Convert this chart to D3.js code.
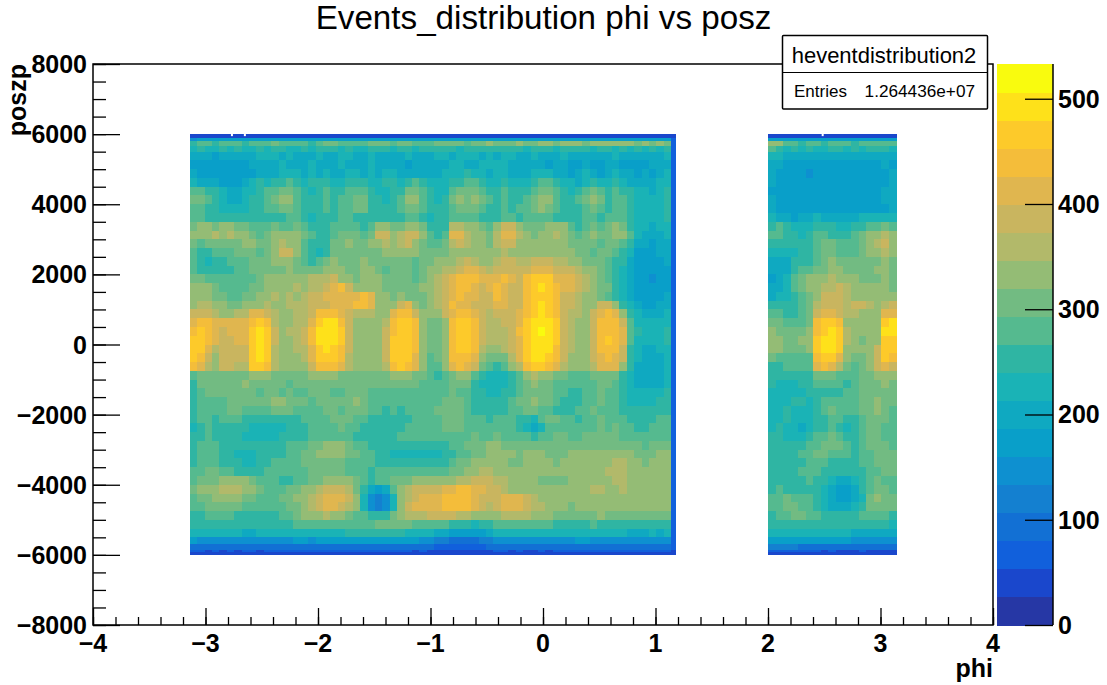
<!DOCTYPE html>
<html>
<head>
<meta charset="utf-8">
<title>Events_distribution phi vs posz</title>
<script src="https://cdn.jsdelivr.net/npm/d3@7"></script>
<style>
  html, body { margin: 0; padding: 0; background: white; }
  svg { display: block; font-family: "Liberation Sans", Arial, sans-serif; }
  .bold { font-weight: bold; font-size: 25px; fill: #000; }
</style>
</head>
<body>
<svg width="1107" height="685"></svg>
<script>
// bin edges in posz, top to bottom (finer near the detector ends)
var zEdges = [6000,5900,5800,5650,5500,5250,5000,4750,4500,4250,4000,3750,3500,3250,3000,2750,2500,2250,2000,1750,1500,1250,1000,750,500,250,0,-250,-500,-750,-1000,-1250,-1500,-1750,-2000,-2250,-2500,-2750,-3000,-3250,-3500,-3750,-4000,-4250,-4500,-4750,-5000,-5250,-5500,-5700,-5850,-5930,-6000];

// phi range of the two filled blocks
var phiLeft = [-3.14, 1.14];
var phiEdge = [1.14, 1.18];
var phiRight = [2.0, 3.14];

// counts, one row per zEdges interval
var heatLeft = [
[35,38,40,42,38, 36,40,38,42,36, 38,40,36,42,38, 40,38,36,40,42, 38,36,40,38,42, 40,36,38,42,40, 38,36,40,38,36, 42,38,40,36,38, 40,42,38,36,40, 38,42,40,36,38, 42,40,38,36,40, 38,42,36,40,38, 42,40,36,38,40],
[150,165,170,160,175, 165,170,160,175,170, 165,175,170,160,175, 170,165,175,180,170, 175,165,170,180,175, 170,180,175,165,170, 175,170,180,165,175, 170,180,175,170,165, 180,175,170,180,175, 165,170,180,175,170, 180,175,170,165,180, 175,180,170,175,180, 170,175,165,175,170],
[255,270,285,265,275, 290,270,265,280,270, 285,295,280,270,275, 280,265,290,305,295, 275,280,270,285,295, 310,300,280,295,305, 285,275,290,305,300, 315,295,285,300,310, 325,310,300,315,325, 305,315,330,320,310, 325,335,320,315,330, 340,325,335,320,330, 315,325,310,320,305],
[225,240,235,225,245, 230,240,225,235,245, 230,250,240,225,235, 245,230,240,255,245, 230,240,235,225,245, 255,240,230,245,250, 235,245,255,240,250, 245,235,250,260,245, 255,240,250,260,245, 235,250,255,245,235, 250,240,255,245,235, 250,240,230,245,235, 240,230,245,235,250],
[195,205,195,185,200, 190,205,195,210,220, 230,215,205,220,210, 195,205,220,210,200, 215,225,210,205,220, 200,210,195,205,220, 210,195,205,215,225, 210,220,230,215,205, 220,205,215,225,210, 200,215,205,195,210, 220,205,195,210,200, 190,205,215,200,190, 205,195,210,200,215],
[185,175,180,170,165, 175,165,180,195,205, 190,205,220,210,195, 205,220,210,195,205, 215,205,195,210,215, 200,190,205,195,185, 195,205,190,210,200, 215,225,210,200,215, 225,235,215,205,195, 190,205,195,185,200, 195,180,175,190,185, 175,190,195,180,175, 170,185,190,195,205],
[195,180,175,165,170, 160,175,170,185,205, 195,210,225,230,215, 205,220,210,225,205, 195,215,225,210,215, 205,225,215,200,210, 195,205,190,200,215, 225,235,245,230,215, 205,220,215,200,190, 205,215,235,225,205, 195,185,200,215,195, 185,200,215,205,190, 185,195,185,200,215],
[215,205,195,190,180, 175,185,195,220,245, 235,245,265,280,255, 225,240,255,240,225, 235,250,265,250,235, 225,240,250,235,260, 270,240,225,215,235, 255,265,280,270,245, 235,225,240,215,225, 235,255,280,270,240, 220,215,205,235,250, 235,225,245,230,210, 205,195,210,220,225],
[280,290,265,240,220, 205,195,215,230,255, 270,280,305,310,285, 250,235,255,270,255, 260,275,290,280,250, 235,225,245,265,295, 305,270,240,225,235, 280,300,295,305,290, 265,250,270,240,250, 265,290,315,305,270, 240,235,260,285,305, 280,255,275,265,240, 225,215,210,225,240],
[305,295,280,245,225, 210,205,225,240,265, 280,295,320,325,290, 255,240,265,285,265, 275,290,310,315,260, 240,230,255,290,325, 320,285,250,235,245, 300,320,315,325,300, 270,260,285,255,265, 285,315,340,325,285, 250,245,275,300,320, 295,265,285,285,250, 230,220,215,230,250],
[290,285,265,240,225, 215,220,235,250,265, 275,285,300,310,290, 255,245,260,280,260, 270,285,300,295,265, 250,240,260,280,310, 305,280,255,245,255, 285,305,300,305,290, 265,260,275,265,270, 280,305,320,305,280, 255,250,265,285,295, 285,265,280,275,255, 235,225,225,235,250],
[285,270,260,255,250, 245,240,240,250,260, 255,250,265,275,270, 250,235,240,260,265, 275,280,265,260,255, 260,265,255,265,285, 275,255,235,240,250, 280,290,285,275,265, 250,265,285,270,265, 275,280,285,270,260, 250,255,265,270,275, 265,270,280,275,255, 230,225,220,230,240],
[300,320,325,315,325, 320,310,295,280,270, 285,295,290,285,300, 285,265,250,255,280, 290,285,270,265,285, 325,340,310,310,335, 345,295,260,250,265, 350,355,330,325,300, 285,320,375,385,340, 305,295,310,320,345, 325,290,265,285,300, 285,295,320,310,265, 225,215,210,220,235],
[325,345,335,350,345, 355,340,320,295,290, 300,320,335,340,325, 310,280,250,245,275, 300,310,295,285,310, 375,385,345,355,390, 395,320,270,265,285, 400,405,370,345,320, 310,370,410,415,365, 320,300,320,345,365, 340,305,285,295,320, 295,315,335,325,270, 215,205,200,210,225],
[300,290,300,315,310, 295,310,325,320,305, 310,335,350,345,320, 285,255,240,250,295, 310,320,310,300,320, 345,350,340,355,375, 345,310,280,285,300, 370,375,355,340,320, 315,350,385,375,345, 330,320,335,340,345, 330,310,295,310,300, 290,305,300,285,240, 195,190,185,195,210],
[290,265,255,275,285, 280,295,310,300,290, 315,345,380,375,335, 290,245,235,265,315, 305,295,305,295,300, 315,335,345,335,340, 325,305,300,305,310, 335,340,325,325,330, 325,340,350,345,335, 335,340,330,345,340, 335,325,310,305,290, 300,295,280,265,220, 185,175,180,190,200],
[285,250,230,245,265, 270,275,285,300,295, 310,325,340,330,310, 285,265,275,300,320, 315,300,310,320,315, 300,305,295,310,305, 290,295,310,320,330, 345,355,375,365,345, 345,360,380,385,365, 360,385,395,380,365, 355,345,325,315,305, 300,290,265,245,205, 175,165,170,175,190],
[280,255,245,260,265, 260,270,280,295,300, 300,315,315,325,315, 300,295,300,320,345, 330,305,300,320,340, 300,290,295,300,295, 290,300,320,345,350, 370,390,410,400,375, 370,375,390,395,385, 390,410,415,400,385, 375,375,355,340,320, 305,290,255,235,200, 170,160,160,170,185],
[310,300,285,280,285, 270,275,280,285,305, 320,320,330,335,340, 345,350,355,370,385, 345,320,310,320,335, 325,305,300,305,295, 290,305,330,365,375, 405,430,440,435,405, 410,425,435,415,395, 435,460,470,455,425, 410,415,385,350,330, 315,290,260,225,195, 170,160,155,165,180],
[330,335,320,300,285, 270,275,285,295,315, 330,340,335,345,350, 345,355,370,395,420, 430,385,345,330,335, 320,310,305,300,295, 300,320,345,365,385, 420,435,430,425,395, 400,430,425,390,390, 445,470,480,470,440, 405,405,380,350,340, 315,295,265,230,195, 175,165,160,165,185],
[335,345,335,310,295, 280,285,295,310,330, 345,350,345,350,345, 355,375,395,420,420, 415,405,425,430,415, 340,320,315,320,305, 295,305,340,370,385, 425,430,410,405,385, 395,430,415,385,385, 440,465,475,465,435, 395,395,370,345,330, 310,290,265,235,205, 180,170,165,175,195],
[345,355,350,340,320, 305,305,320,330,345, 350,345,340,350,355, 365,385,385,385,400, 415,420,430,445,425, 345,330,345,385,400, 345,310,325,360,395, 430,425,400,395,380, 385,400,405,385,395, 445,465,480,465,440, 395,375,355,345,345, 375,385,340,265,220, 200,185,180,190,205],
[390,395,385,365,345, 340,350,365,400,410, 375,350,340,345,355, 370,385,435,445,440, 400,380,365,360,350, 335,345,400,430,430, 375,330,320,340,385, 425,440,435,420,390, 370,375,385,385,400, 445,470,480,470,440, 385,370,350,345,375, 420,430,405,320,240, 215,205,200,210,225],
[425,440,430,415,405, 410,415,405,450,470, 430,365,340,345,355, 370,400,465,480,480, 450,380,340,330,340, 340,370,445,455,460, 435,340,305,310,345, 435,455,460,435,380, 355,360,375,390,420, 460,480,490,480,455, 390,360,340,340,385, 435,445,435,385,270, 230,215,215,225,235],
[440,460,440,410,395, 400,415,420,465,480, 460,380,345,350,360, 375,430,490,505,505, 470,390,340,330,340, 345,380,450,465,470, 445,345,305,305,345, 445,465,470,450,390, 360,365,370,385,430, 470,490,510,495,465, 395,360,340,340,390, 435,450,445,410,290, 240,230,225,230,245],
[455,460,430,400,390, 390,400,415,470,485, 465,380,340,340,355, 375,435,480,495,490, 465,390,340,330,335, 345,385,455,470,470, 440,340,300,305,340, 445,465,470,445,385, 355,355,365,380,425, 475,495,505,490,460, 395,360,335,335,395, 440,455,445,405,285, 235,225,220,230,240],
[460,455,420,365,380, 390,390,395,470,485, 460,370,335,335,350, 370,425,470,480,475, 445,380,335,325,330, 340,380,460,470,465, 435,335,295,300,340, 445,460,460,435,370, 345,340,350,375,420, 475,490,495,480,450, 390,350,330,330,390, 430,450,440,395,265, 220,210,210,220,230],
[455,450,390,345,385, 390,380,380,465,480, 455,360,330,325,340, 355,410,460,470,465, 430,370,330,320,325, 335,375,455,465,460, 425,330,290,295,330, 435,450,450,420,340, 305,295,310,355,400, 465,480,485,470,440, 380,340,325,325,380, 425,440,425,375,250, 215,205,200,210,225],
[430,420,355,340,375, 380,365,370,460,470, 445,350,330,320,335, 345,395,440,445,430, 400,355,330,320,325, 330,360,445,455,445, 410,325,290,290,320, 410,430,425,385,305, 275,265,285,325,370, 445,465,465,445,400, 360,335,320,320,365, 410,420,400,345,240, 210,200,200,210,225],
[290,305,310,295,305, 310,300,315,345,335, 320,305,300,295,305, 310,320,335,330,325, 310,305,305,295,305, 310,315,335,330,325, 305,295,270,265,280, 310,325,320,290,245, 225,220,235,265,290, 330,350,335,320,305, 300,290,280,285,295, 310,315,295,265,215, 205,200,195,205,215],
[265,295,305,310,295, 300,310,320,315,305, 310,300,305,290,300, 305,315,305,300,310, 305,295,310,305,300, 295,305,300,305,310, 300,285,270,275,280, 295,300,295,260,230, 220,225,235,255,280, 310,320,315,305,290, 285,275,270,280,285, 300,295,280,250,220, 205,210,200,210,220],
[260,290,305,310,305, 315,310,305,300,285, 300,305,290,295,285, 290,300,305,300,290, 280,300,310,300,290, 285,290,280,275,280, 290,285,275,280,290, 300,290,275,250,240, 230,235,250,265,285, 305,315,310,300,280, 270,260,260,270,285, 295,285,275,255,230, 215,215,220,230,240],
[245,280,290,280,290, 300,305,310,300,295, 305,320,325,315,305, 295,290,300,310,315, 305,315,325,305,290, 280,275,280,270,275, 280,290,280,290,295, 305,300,280,265,255, 250,250,260,275,295, 310,320,310,295,275, 265,255,260,275,290, 295,280,270,250,235, 225,225,235,240,250],
[250,275,285,275,285, 295,300,290,280,275, 285,300,305,300,290, 280,275,285,295,300, 290,300,315,300,285, 275,265,270,265,270, 275,280,290,295,300, 305,295,275,265,260, 255,260,265,280,290, 295,300,285,280,265, 260,265,275,285,295, 290,275,270,255,245, 240,240,250,260,265],
[240,270,280,265,270, 275,270,265,255,245, 250,260,265,255,260, 270,285,280,290,305, 310,295,280,270,265, 255,250,265,260,265, 270,275,280,290,305, 315,305,285,275,270, 265,280,285,275,260, 250,235,270,295,300, 290,275,265,275,285, 295,285,290,275,265, 260,250,260,270,280],
[235,265,275,260,255, 260,250,240,230,225, 230,225,235,240,250, 265,280,275,285,290, 295,285,275,260,250, 240,245,255,265,270, 275,280,280,285,295, 300,295,285,285,280, 275,285,280,270,255, 225,210,230,275,290, 285,275,275,285,290, 295,290,295,280,270, 265,260,275,285,290],
[240,260,270,265,255, 250,240,235,230,225, 225,235,240,245,255, 265,275,285,290,290, 285,275,265,255,245, 240,250,260,270,280, 285,275,275,280,285, 290,280,285,295,290, 290,295,290,280,275, 270,260,275,285,295, 295,285,290,295,305, 300,295,300,290,280, 270,270,280,285,290],
[250,275,280,275,260, 250,255,250,245,255, 260,255,260,270,280, 290,300,315,320,325, 330,315,290,275,265, 260,255,250,245,250, 255,250,245,255,265, 270,280,295,305,315, 320,325,315,305,300, 305,310,315,315,300, 295,300,310,315,305, 300,305,310,315,305, 295,285,295,305,310],
[255,280,285,275,265, 250,235,230,235,245, 260,265,265,280,290, 300,310,325,330,335, 330,315,295,280,275, 265,250,235,230,225, 225,220,220,230,245, 260,275,285,295,315, 330,335,330,320,315, 325,335,330,315,310, 315,325,335,330,325, 330,335,345,340,325, 315,305,310,320,325],
[265,285,290,280,265, 250,240,230,235,245, 265,270,270,280,285, 295,295,300,305,315, 300,290,280,275,270, 265,260,255,250,250, 255,260,255,250,260, 280,295,305,320,335, 340,335,325,315,315, 320,330,325,320,315, 320,330,345,340,330, 340,345,355,350,335, 325,315,320,325,330],
[270,290,300,295,285, 270,255,245,245,255, 270,275,270,275,280, 290,295,300,305,310, 300,290,280,270,265, 270,270,270,275,275, 285,290,290,285,285, 295,310,325,340,350, 350,340,330,320,320, 325,330,330,325,320, 320,330,340,340,335, 340,350,355,355,340, 330,325,320,325,330],
[280,300,305,315,320, 330,325,330,310,290, 280,270,265,265,270, 285,295,305,320,340, 335,320,300,275,265, 270,285,300,300,305, 320,330,325,320,325, 340,355,370,380,385, 380,370,350,330,320, 320,320,315,310,305, 310,320,330,335,330, 340,345,350,350,340, 335,330,325,330,330],
[295,320,325,340,350, 355,350,340,320,300, 285,280,285,295,305, 320,335,350,375,395, 385,355,315,250,195, 170,195,270,340,360, 375,385,385,390,405, 420,435,440,425,410, 390,375,360,345,335, 330,325,325,335,340, 340,335,340,345,350, 350,345,345,350,345, 345,340,335,335,340],
[285,305,315,325,335, 335,325,310,295,285, 280,285,295,305,320, 345,365,385,410,420, 405,375,320,220,145, 125,140,225,335,370, 385,405,420,425,435, 440,445,445,425,395, 385,390,405,405,400, 375,355,345,340,335, 330,325,325,330,335, 340,340,345,345,340, 335,330,330,330,335],
[275,290,300,305,310, 305,295,285,280,275, 275,280,290,300,315, 340,365,390,405,400, 375,355,325,235,155, 130,150,230,330,375, 405,410,415,425,430, 440,450,445,420,380, 370,385,410,415,405, 385,365,350,335,325, 320,315,320,325,330, 335,330,335,335,330, 325,320,320,325,330],
[255,265,270,275,280, 270,260,255,250,250, 255,260,270,285,300, 320,335,345,350,345, 330,310,290,270,255, 250,265,300,345,360, 365,370,380,385,385, 375,370,355,335,320, 320,345,365,370,365, 355,345,335,320,310, 305,300,305,310,315, 320,315,310,310,305, 300,295,295,295,300],
[250,255,260,265,265, 255,250,250,245,245, 250,255,260,265,270, 280,285,280,285,280, 275,280,285,290,290, 295,295,300,300,295, 290,290,285,275,270, 255,245,240,235,245, 260,280,290,290,285, 285,280,275,270,265, 260,260,265,265,270, 265,260,260,255,255, 250,250,250,245,250],
[215,220,225,225,220, 215,215,210,210,215, 215,220,225,225,230, 230,235,230,235,235, 235,240,240,240,240, 240,240,240,240,235, 230,225,215,205,190, 175,170,165,170,185, 200,215,225,230,230, 225,225,225,220,215, 215,215,220,225,225, 220,220,215,215,210, 210,210,215,210,215],
[160,155,155,150,150, 150,155,150,150,150, 155,155,150,155,160, 160,155,160,165,160, 160,165,165,160,165, 165,165,170,165,165, 160,155,140,125,110, 100,95,95,100,110, 125,140,150,155,155, 150,150,155,155,150, 150,155,160,160,155, 155,155,150,155,155, 150,150,155,155,150],
[95,95,90,90,90, 90,95,90,85,90, 90,95,90,95,100, 95,95,100,100,95, 100,105,100,100,105, 100,105,105,100,100, 95,90,80,75,70, 65,65,65,70,75, 80,85,90,90,85, 80,80,85,85,90, 90,95,95,95,90, 95,95,90,95,95, 90,90,95,95,90],
[55,55,50,55,50, 55,50,55,55,50, 55,60,55,60,55, 60,55,60,60,55, 60,60,55,60,60, 60,55,60,55,55, 50,55,50,45,45, 40,40,45,45,50, 50,55,55,50,55, 50,50,55,50,55, 55,60,60,55,60, 60,55,60,60,55, 60,55,60,60,55],
[32,34,36,34,32, 36,34,32,36,34, 32,36,34,36,32, 34,36,32,34,36, 34,32,36,34,32, 36,34,32,34,36, 32,30,32,28,30, 28,30,28,30,32, 30,34,32,34,30, 32,34,32,30,34, 32,34,36,32,34, 36,32,34,36,34, 32,34,36,32,34]
];

// thin blue column along the right side of the left block
var heatEdge = [40,55,65,70,60,65,70,60,65,55,70,60,65,75,60,65,55,70,60,65,55,65,60,70,65,55,70,60,65,55,60,70,65,60,70,65,60,55,70,65,60,70,65,60,70,55,65,70,60,55,50,40];

var heatRight = [
[36,40,38,42,36,40,38,36,40,42,38,36,40,38,42,36,38],
[165,175,170,160,170,175,165,170,175,165,170,175,165,170,160,170,165],
[330,335,290,270,265,280,270,265,275,285,275,265,280,270,285,290,275],
[275,255,235,240,235,245,235,230,240,245,235,240,235,245,250,240,225],
[230,220,205,200,190,195,205,195,190,200,205,210,200,205,195,210,200],
[205,195,185,170,165,170,175,160,165,175,170,180,170,175,185,190,185],
[195,180,170,160,165,155,170,165,160,165,170,175,165,170,175,185,195],
[190,185,170,165,170,160,165,170,175,170,165,175,180,175,170,185,190],
[185,180,165,170,175,165,170,160,165,175,170,165,175,170,180,190,195],
[190,175,170,175,165,170,175,165,170,175,165,160,170,175,185,195,195],
[190,185,175,170,165,170,175,170,160,165,170,165,160,170,175,180,190],
[215,205,195,185,195,205,215,205,195,190,195,205,215,225,215,220,225],
[260,275,250,225,215,235,245,250,240,225,235,250,265,280,285,300,290],
[280,290,265,245,235,250,270,275,265,255,260,285,310,325,345,360,320],
[265,260,250,240,250,265,285,300,295,275,270,290,310,340,350,375,330],
[225,215,220,235,245,260,280,300,305,285,285,290,305,320,335,360,325],
[205,195,205,240,250,265,285,300,320,305,295,295,300,310,315,325,305],
[190,195,210,255,270,285,300,310,320,325,310,300,295,305,320,325,300],
[185,190,225,280,305,325,340,345,350,345,330,320,305,310,315,320,300],
[195,205,235,270,300,320,340,350,365,375,355,335,320,325,340,335,315],
[205,215,225,255,285,315,345,375,385,380,355,335,335,345,345,340,325],
[240,250,240,250,280,315,360,395,390,380,360,385,375,350,345,365,375],
[275,275,260,260,285,315,385,420,405,375,350,350,345,340,345,405,425],
[300,295,280,275,290,310,440,470,465,440,345,320,325,330,345,465,490],
[320,310,295,295,315,330,445,470,480,460,360,335,325,325,345,480,485],
[330,320,305,310,325,335,460,480,490,465,355,335,315,320,345,470,475],
[335,320,305,305,310,320,465,485,490,460,345,320,320,335,390,465,460],
[300,285,275,285,290,290,450,475,470,425,320,300,310,330,395,455,440],
[260,255,270,280,270,275,405,430,410,370,305,290,305,325,380,410,395],
[245,240,240,250,255,265,295,315,310,290,275,275,295,310,325,335,320],
[240,230,225,225,240,255,270,285,280,270,265,280,295,305,315,320,305],
[235,225,220,225,235,245,255,265,260,255,270,285,295,300,310,305,300],
[225,215,225,240,245,235,255,275,285,280,275,285,295,310,320,315,300],
[220,230,240,235,220,230,250,280,300,280,270,280,295,315,325,310,290],
[225,235,240,225,215,225,245,265,290,270,250,265,290,305,315,295,280],
[230,240,230,215,210,225,250,265,275,255,235,250,280,295,300,285,270],
[240,245,235,225,230,245,270,290,300,285,265,265,285,295,295,285,280],
[250,245,240,240,255,270,285,305,310,295,280,265,280,295,300,295,290],
[255,245,245,255,275,285,295,300,290,285,270,260,270,285,295,300,295],
[250,245,245,250,265,280,285,280,265,260,255,255,270,285,295,295,295],
[250,245,240,250,270,285,280,265,250,245,245,250,265,280,290,295,295],
[250,255,250,245,255,270,265,240,215,205,205,225,255,280,295,290,285],
[260,270,265,250,245,265,255,220,195,180,180,195,240,290,305,295,290],
[285,290,295,285,270,270,250,215,190,175,170,190,235,300,325,310,300],
[285,285,300,300,285,270,255,230,210,195,190,215,265,305,315,305,295],
[260,270,285,295,295,280,270,260,250,245,245,260,275,275,275,270,265],
[245,250,260,265,265,260,255,250,245,240,240,240,245,245,240,240,235],
[215,220,225,230,230,225,225,220,215,215,215,210,210,205,205,200,200],
[165,170,175,175,170,165,170,165,165,160,160,155,155,150,150,145,145],
[115,115,110,110,105,100,100,95,95,90,90,85,85,85,80,80,80],
[70,65,60,60,60,55,55,50,55,50,50,50,55,50,50,50,50],
[36,34,36,32,34,30,34,32,30,34,32,30,34,32,30,32,30]
];

// empty bins in the very top row
var emptyTopBins = [-2.765, -2.65, 2.486];

// axis ticks
var xMajor = [-4,-3,-2,-1,0,1,2,3,4];
var xMinor = d3.range(-4, 4.01, 0.2);
var yMajor = [-8000,-6000,-4000,-2000,0,2000,4000,6000,8000];
var yMinor = d3.range(-8000, 8001, 500);
var zMajor = [0,100,200,300,400,500];
var zMax = 533;

// palette bands as they show on the colour bar, bottom to top
var levels = ["#2637a5","#1a47cc","#1160dc","#1270d4","#1480d0","#0e90d0","#099fc9","#0fa9c1","#1ab3b6","#2fb5a3","#55ba8f","#72bb82","#94bc75","#b2b96a","#c9b55f","#e0b64f","#f4bd3a","#fdca2a","#fee11a","#f9fb0e"];

var svg = d3.select("svg");
var frame = {left: 93, right: 993, top: 64, bottom: 625};

var x = d3.scaleLinear().domain([-4, 4]).range([frame.left, frame.right]);
var y = d3.scaleLinear().domain([-8000, 8000]).range([frame.bottom, frame.top]);
var zScale = d3.scaleLinear().domain([0, zMax]).range([frame.bottom, frame.top]);
var color = d3.scaleQuantize().domain([0, zMax]).range(levels);

// one block of cells, columns spread evenly over the phi range
function drawBlock(rows, range) {
    var nCols = rows[0].length;
    var phi = d3.scaleLinear().domain([0, nCols]).range(range);
    var g = svg.append("g").attr("shape-rendering", "crispEdges");
    rows.forEach(function(row, r) {
        g.selectAll(null)
            .data(row)
            .enter().append("rect")
            .attr("x", function(d, i) { return x(phi(i)); })
            .attr("width", function(d, i) { return x(phi(i + 1)) - x(phi(i)) + 0.5; })
            .attr("y", y(zEdges[r]))
            .attr("height", y(zEdges[r + 1]) - y(zEdges[r]) + 0.5)
            .attr("fill", function(d) { return color(d); });
    });
}

drawBlock(heatLeft, phiLeft);
drawBlock(heatEdge.map(function(v) { return [v]; }), phiEdge);
drawBlock(heatRight, phiRight);

svg.selectAll(".empty")
    .data(emptyTopBins)
    .enter().append("rect")
    .attr("class", "empty")
    .attr("x", function(d) { return x(d) - 1; })
    .attr("y", y(6000) - 1)
    .attr("width", 2)
    .attr("height", 3)
    .attr("fill", "white");

// frame
svg.append("rect")
    .attr("x", frame.left).attr("y", frame.top)
    .attr("width", frame.right - frame.left).attr("height", frame.bottom - frame.top)
    .attr("fill", "none").attr("stroke", "#000").attr("stroke-width", 1.5);

// ticks point inwards like in ROOT
function ticks(axis, values, len) {
    axis.tickValues(values).tickSize(-len).tickFormat("");
    return axis;
}
function styleAxis(g) {
    g.select(".domain").remove();
    g.selectAll("line").attr("stroke", "#000").attr("stroke-width", 1.3);
}

svg.append("g").attr("transform", "translate(0," + frame.bottom + ")")
    .call(ticks(d3.axisBottom(x), xMinor, 8)).call(styleAxis);
svg.append("g").attr("transform", "translate(0," + frame.bottom + ")")
    .call(ticks(d3.axisBottom(x), xMajor, 17)).call(styleAxis);
svg.append("g").attr("transform", "translate(" + frame.left + ",0)")
    .call(ticks(d3.axisLeft(y), yMinor, 13)).call(styleAxis);
svg.append("g").attr("transform", "translate(" + frame.left + ",0)")
    .call(ticks(d3.axisLeft(y), yMajor, 27)).call(styleAxis);

function signed(v) {
    return v < 0 ? "\u2212" + Math.abs(v) : "" + v;
}

svg.selectAll(".xlabel")
    .data(xMajor)
    .enter().append("text")
    .attr("class", "bold")
    .attr("x", function(d) { return x(d); })
    .attr("y", 652)
    .attr("text-anchor", "middle")
    .text(signed);

svg.selectAll(".ylabel")
    .data(yMajor)
    .enter().append("text")
    .attr("class", "bold")
    .attr("x", 87)
    .attr("y", function(d) { return y(d) + 9; })
    .attr("text-anchor", "end")
    .text(signed);

// palette
svg.append("g").attr("shape-rendering", "crispEdges")
    .selectAll("rect")
    .data(levels)
    .enter().append("rect")
    .attr("x", 997)
    .attr("width", 56)
    .attr("y", function(d, i) { return zScale((i + 1) * zMax / levels.length); })
    .attr("height", (frame.bottom - frame.top) / levels.length + 0.5)
    .attr("fill", function(d) { return d; });

svg.append("line")
    .attr("x1", 1053).attr("x2", 1053)
    .attr("y1", frame.top).attr("y2", frame.bottom)
    .attr("stroke", "#000").attr("stroke-width", 1.5);

svg.append("g").attr("transform", "translate(1053,0)")
    .call(ticks(d3.axisRight(zScale), zMajor, 28)).call(styleAxis);

svg.selectAll(".zlabel")
    .data(zMajor)
    .enter().append("text")
    .attr("class", "bold")
    .attr("x", 1058)
    .attr("y", function(d) { return zScale(d) + 9; })
    .text(String);

// stats box
var stats = svg.append("g");
stats.append("rect")
    .attr("x", 782.5).attr("y", 35.5).attr("width", 205).attr("height", 73.5)
    .attr("rx", 1).attr("fill", "white").attr("stroke", "#000").attr("stroke-width", 1.5);
stats.append("line")
    .attr("x1", 782.5).attr("x2", 987.5).attr("y1", 72.5).attr("y2", 72.5)
    .attr("stroke", "#000").attr("stroke-width", 1.2);
stats.append("text")
    .attr("x", 884).attr("y", 63).attr("text-anchor", "middle")
    .style("font-size", "22px").text("heventdistribution2");
stats.append("text")
    .attr("x", 794).attr("y", 97).style("font-size", "17px").text("Entries");
stats.append("text")
    .attr("x", 975).attr("y", 97).attr("text-anchor", "end")
    .style("font-size", "17.2px").text("1.264436e+07");

// titles
svg.append("text")
    .attr("x", 543.5).attr("y", 28.5).attr("text-anchor", "middle")
    .style("font-size", "33.2px").text("Events_distribution phi vs posz");
svg.append("text")
    .attr("class", "bold")
    .attr("x", 993).attr("y", 677).attr("text-anchor", "end").text("phi");
svg.append("text")
    .attr("class", "bold")
    .attr("transform", "translate(26,64) rotate(-90)")
    .attr("text-anchor", "end").text("poszp");
</script>
</body>
</html>
